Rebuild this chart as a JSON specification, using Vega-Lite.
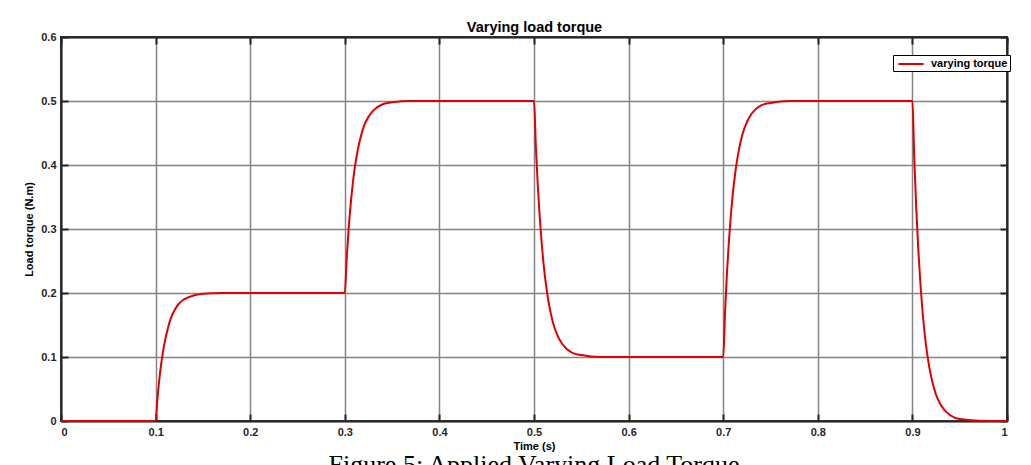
{
  "$schema": "https://vega.github.io/schema/vega-lite/v6.json",
  "autosize": {"type": "none"},
  "padding": {"left": 61, "top": 37, "right": 24, "bottom": 44},
  "width": 946,
  "height": 384,
  "background": "white",
  "title": {
    "text": "Figure 5: Applied Varying Load Torque",
    "orient": "bottom",
    "anchor": "middle",
    "font": "Liberation Serif",
    "fontSize": 26,
    "fontWeight": "normal",
    "color": "#000000",
    "offset": 1
  },
  "config": {
    "view": {"stroke": "#262626", "strokeWidth": 2},
    "axis": {
      "labelFont": "Liberation Sans",
      "labelFontWeight": "bold",
      "labelFontSize": 11,
      "labelColor": "#262626",
      "titleFont": "Liberation Sans",
      "titleFontWeight": "bold",
      "titleFontSize": 11,
      "titleColor": "#000000",
      "domainColor": "#262626",
      "domainWidth": 2,
      "tickColor": "#262626",
      "tickWidth": 2,
      "gridColor": "#858585",
      "gridWidth": 1.5,
      "gridOpacity": 1
    },
    "legend": {
      "labelFont": "Liberation Sans",
      "labelFontWeight": "bold",
      "labelFontSize": 11,
      "labelColor": "#000000"
    }
  },
  "data": {
    "values": [
      {"t": 0.0, "torque": 0.0, "series": "varying torque"},
      {"t": 0.1, "torque": 0.0, "series": "varying torque"},
      {"t": 0.102, "torque": 0.036, "series": "varying torque"},
      {"t": 0.104, "torque": 0.066, "series": "varying torque"},
      {"t": 0.106, "torque": 0.09, "series": "varying torque"},
      {"t": 0.108, "torque": 0.11, "series": "varying torque"},
      {"t": 0.11, "torque": 0.126, "series": "varying torque"},
      {"t": 0.113, "torque": 0.145, "series": "varying torque"},
      {"t": 0.116, "torque": 0.16, "series": "varying torque"},
      {"t": 0.12, "torque": 0.173, "series": "varying torque"},
      {"t": 0.125, "torque": 0.184, "series": "varying torque"},
      {"t": 0.13, "torque": 0.19, "series": "varying torque"},
      {"t": 0.14, "torque": 0.196, "series": "varying torque"},
      {"t": 0.15, "torque": 0.199, "series": "varying torque"},
      {"t": 0.17, "torque": 0.2, "series": "varying torque"},
      {"t": 0.3, "torque": 0.2, "series": "varying torque"},
      {"t": 0.302, "torque": 0.254, "series": "varying torque"},
      {"t": 0.304, "torque": 0.299, "series": "varying torque"},
      {"t": 0.306, "torque": 0.335, "series": "varying torque"},
      {"t": 0.308, "torque": 0.365, "series": "varying torque"},
      {"t": 0.31, "torque": 0.39, "series": "varying torque"},
      {"t": 0.313, "torque": 0.418, "series": "varying torque"},
      {"t": 0.316, "torque": 0.439, "series": "varying torque"},
      {"t": 0.32, "torque": 0.46, "series": "varying torque"},
      {"t": 0.325, "torque": 0.475, "series": "varying torque"},
      {"t": 0.33, "torque": 0.485, "series": "varying torque"},
      {"t": 0.34, "torque": 0.495, "series": "varying torque"},
      {"t": 0.35, "torque": 0.498, "series": "varying torque"},
      {"t": 0.37, "torque": 0.5, "series": "varying torque"},
      {"t": 0.5, "torque": 0.5, "series": "varying torque"},
      {"t": 0.502, "torque": 0.428, "series": "varying torque"},
      {"t": 0.504, "torque": 0.368, "series": "varying torque"},
      {"t": 0.506, "torque": 0.32, "series": "varying torque"},
      {"t": 0.508, "torque": 0.28, "series": "varying torque"},
      {"t": 0.51, "torque": 0.247, "series": "varying torque"},
      {"t": 0.513, "torque": 0.209, "series": "varying torque"},
      {"t": 0.516, "torque": 0.181, "series": "varying torque"},
      {"t": 0.52, "torque": 0.154, "series": "varying torque"},
      {"t": 0.525, "torque": 0.133, "series": "varying torque"},
      {"t": 0.53, "torque": 0.12, "series": "varying torque"},
      {"t": 0.54, "torque": 0.107, "series": "varying torque"},
      {"t": 0.55, "torque": 0.103, "series": "varying torque"},
      {"t": 0.57, "torque": 0.1, "series": "varying torque"},
      {"t": 0.7, "torque": 0.1, "series": "varying torque"},
      {"t": 0.702, "torque": 0.172, "series": "varying torque"},
      {"t": 0.704, "torque": 0.232, "series": "varying torque"},
      {"t": 0.706, "torque": 0.28, "series": "varying torque"},
      {"t": 0.708, "torque": 0.32, "series": "varying torque"},
      {"t": 0.71, "torque": 0.353, "series": "varying torque"},
      {"t": 0.713, "torque": 0.391, "series": "varying torque"},
      {"t": 0.716, "torque": 0.419, "series": "varying torque"},
      {"t": 0.72, "torque": 0.446, "series": "varying torque"},
      {"t": 0.725, "torque": 0.467, "series": "varying torque"},
      {"t": 0.73, "torque": 0.48, "series": "varying torque"},
      {"t": 0.74, "torque": 0.493, "series": "varying torque"},
      {"t": 0.75, "torque": 0.497, "series": "varying torque"},
      {"t": 0.77, "torque": 0.5, "series": "varying torque"},
      {"t": 0.9, "torque": 0.5, "series": "varying torque"},
      {"t": 0.902, "torque": 0.409, "series": "varying torque"},
      {"t": 0.904, "torque": 0.335, "series": "varying torque"},
      {"t": 0.906, "torque": 0.274, "series": "varying torque"},
      {"t": 0.908, "torque": 0.225, "series": "varying torque"},
      {"t": 0.91, "torque": 0.184, "series": "varying torque"},
      {"t": 0.913, "torque": 0.136, "series": "varying torque"},
      {"t": 0.916, "torque": 0.101, "series": "varying torque"},
      {"t": 0.92, "torque": 0.068, "series": "varying torque"},
      {"t": 0.925, "torque": 0.041, "series": "varying torque"},
      {"t": 0.93, "torque": 0.025, "series": "varying torque"},
      {"t": 0.94, "torque": 0.009, "series": "varying torque"},
      {"t": 0.95, "torque": 0.003, "series": "varying torque"},
      {"t": 0.97, "torque": 0.0005, "series": "varying torque"},
      {"t": 1.0, "torque": 0.0, "series": "varying torque"}
    ]
  },
  "layer": [
    {
      "mark": {"type": "line", "strokeWidth": 2, "interpolate": "monotone"},
      "encoding": {
        "x": {
          "field": "t", "type": "quantitative",
          "scale": {"domain": [0, 1], "nice": false, "zero": false},
          "axis": {
            "title": "Time (s)", "orient": "bottom", "values": [0, 0.1, 0.2, 0.3, 0.4, 0.5, 0.6, 0.7, 0.8, 0.9, 1],
            "format": "~g", "tickSize": -7, "labelPadding": 12, "titlePadding": 3, "grid": true
          }
        },
        "y": {
          "field": "torque", "type": "quantitative",
          "scale": {"domain": [0, 0.6], "nice": false},
          "axis": {
            "title": "Load torque (N.m)", "orient": "left", "values": [0, 0.1, 0.2, 0.3, 0.4, 0.5, 0.6],
            "format": "~g", "tickSize": -7, "labelPadding": 12, "titlePadding": 6, "grid": true
          }
        },
        "color": {
          "field": "series", "type": "nominal",
          "scale": {"range": ["#e00000"]},
          "legend": {
            "title": null, "orient": "none", "legendX": 832, "legendY": 18,
            "symbolType": "M-2.1,0H2.1", "symbolSize": 144, "symbolStrokeWidth": 2,
            "symbolOffset": 9, "labelOffset": 13,
            "strokeColor": "#000000", "fillColor": "#ffffff", "padding": 2, "offset": 0
          }
        }
      }
    },
    {
      "mark": {"type": "line", "strokeWidth": 2, "opacity": 0},
      "encoding": {
        "x": {
          "field": "t", "type": "quantitative",
          "scale": {"domain": [0, 1], "nice": false, "zero": false},
          "axis": {
            "title": "Varying load torque", "orient": "top", "values": [0, 0.1, 0.2, 0.3, 0.4, 0.5, 0.6, 0.7, 0.8, 0.9, 1],
            "labels": false, "tickSize": -7, "grid": false, "titleFontSize": 14.5, "titlePadding": 2
          }
        },
        "y": {
          "field": "torque", "type": "quantitative",
          "scale": {"domain": [0, 0.6], "nice": false},
          "axis": {
            "title": null, "orient": "right", "values": [0, 0.1, 0.2, 0.3, 0.4, 0.5, 0.6],
            "labels": false, "tickSize": -7, "grid": false
          }
        }
      }
    }
  ],
  "resolve": {"scale": {"x": "independent", "y": "independent"}}
}
